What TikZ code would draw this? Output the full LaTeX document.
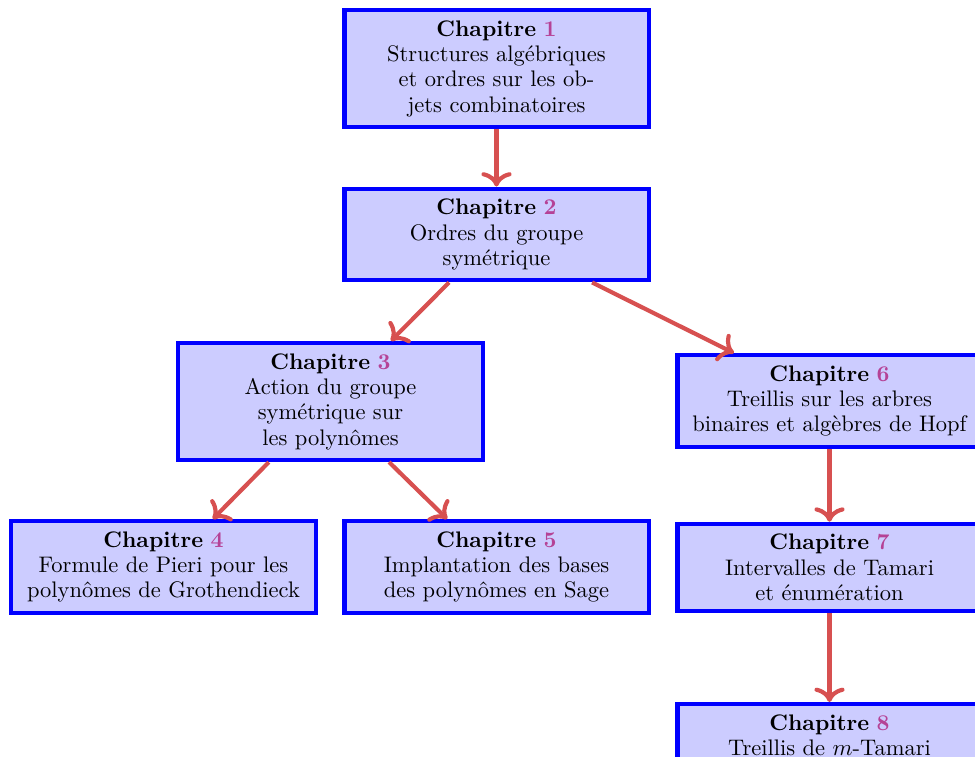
\documentclass[tikz,border=0pt]{standalone}
\usepackage{fontspec}
\usetikzlibrary{calc,arrows.meta}
\definecolor{arrowred}{RGB}{215,80,80}
\definecolor{numcol}{RGB}{181,66,150}
\tikzset{
  chapbox/.style={draw=blue, line width=2pt, fill=blue!20, minimum width=146pt,
    align=center, inner xsep=3.2pt, inner ysep=5pt,
    font=\fontsize{10.8pt}{12.15pt}\selectfont},
  link/.style={draw=arrowred, line width=2pt, -{To[scale=1.15]}}
}
\newcommand{\chap}[1]{\textbf{Chapitre} \textcolor{numcol}{\textbf{#1}}}
\begin{document}
\begin{tikzpicture}[x=0.48pt, y=-0.48pt]
\useasboundingbox (0,0) rectangle (975,757);
\clip (0,0) rectangle (975,757);
\node[chapbox] (c1) at (496.5,68.5) {\chap{1}\\Structures algébriques\\et ordres sur les ob-\\jets combinatoires};
\node[chapbox] (c2) at (496.5,234.5) {\chap{2}\\Ordres du groupe\\symétrique};
\node[chapbox] (c3) at (330.5,401.5) {\chap{3}\\Action du groupe\\symétrique sur\\les polynômes};
\node[chapbox] (c6) at (829.5,401) {\chap{6}\\Treillis sur les arbres\\binaires et algèbres de Hopf};
\node[chapbox] (c4) at (163.5,567) {\chap{4}\\Formule de Pieri pour les\\polynômes de Grothendieck};
\node[chapbox] (c5) at (496.5,567) {\chap{5}\\Implantation des bases\\des polynômes en Sage};
\node[chapbox] (c7) at (829.5,567.5) {\chap{7}\\Intervalles de Tamari\\et énumération};
\node[chapbox, anchor=north] (c8) at (829.5,702) {\chap{8}\\Treillis de $m$-Tamari};
\draw[link] (c1.south) -- (c2.north);
\draw[link] ($(c2.south west)!0.346!(c2.south east)$) -- ($(c3.north west)!0.696!(c3.north east)$);
\draw[link] ($(c2.south west)!0.81!(c2.south east)$) -- ($(c6.north west)!0.19!(c6.north east)$);
\draw[link] ($(c3.south west)!0.30!(c3.south east)$) -- ($(c4.north west)!0.66!(c4.north east)$);
\draw[link] ($(c3.south west)!0.69!(c3.south east)$) -- ($(c5.north west)!0.34!(c5.north east)$);
\draw[link] (c6.south) -- (c7.north);
\draw[link] (c7.south) -- (c8.north);
\end{tikzpicture}
\end{document}
